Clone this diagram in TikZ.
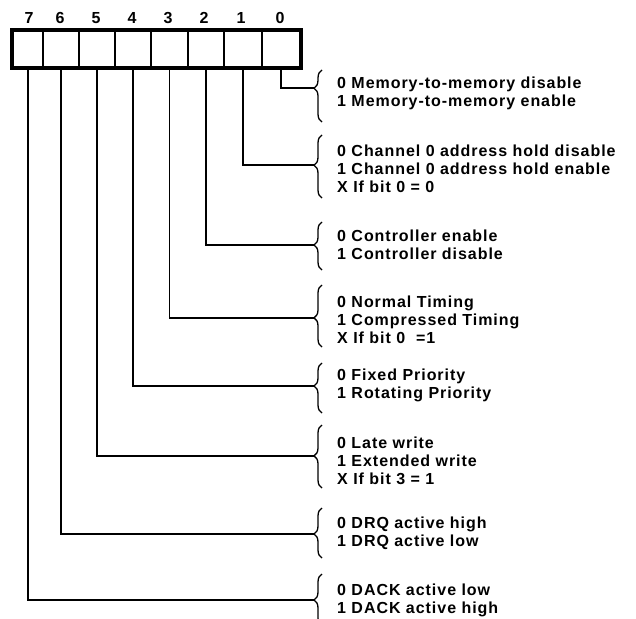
\documentclass[tikz,border=0pt]{standalone}
\usepackage{fontspec}
\setmainfont{Liberation Sans}[LetterSpace=6]
\usetikzlibrary{decorations.pathreplacing}
\newcommand\descfont{\fontsize{16}{17.8}\selectfont\bfseries}
\begin{document}
\begin{tikzpicture}[x=1pt,y=1pt,
  cell/.style={draw, line width=2.2pt, minimum height=36pt, inner sep=0pt},
  bitnum/.style={font=\descfont, inner sep=0pt},
  desc/.style={font=\descfont, align=left, anchor=west, inner sep=0pt},
  wire/.style={line width=1.5pt},
  brc/.style={decorate, decoration={brace, amplitude=8pt, aspect=#1}, line width=1.3pt}]
\useasboundingbox (0,0) rectangle (636,-618);
% register cells
\node[cell, minimum width=30pt] (c7) at (28,-49) {};
\node[cell, minimum width=36pt] (c6) at (61,-49) {};
\node[cell, minimum width=36pt] (c5) at (97,-49) {};
\node[cell, minimum width=36pt] (c4) at (133,-49) {};
\node[cell, minimum width=37pt] (c3) at (169.5,-49) {};
\node[cell, minimum width=36pt] (c2) at (206,-49) {};
\node[cell, minimum width=38pt] (c1) at (243,-49) {};
\node[cell, minimum width=38pt] (c0) at (281,-49) {};
\draw[line width=3pt] (c7.north west) rectangle (c0.south east);
% bit numbers
\node[bitnum] (n7) at (29,-18) {7};
\node[bitnum] (n6) at (60,-18) {6};
\node[bitnum] (n5) at (96,-18) {5};
\node[bitnum] (n4) at (132,-18) {4};
\node[bitnum] (n3) at (168,-18) {3};
\node[bitnum] (n2) at (204,-18) {2};
\node[bitnum] (n1) at (241,-18) {1};
\node[bitnum] (n0) at (280,-18) {0};
% brace tips
\coordinate (t0) at (314,-88);
\coordinate (t1) at (314,-165);
\coordinate (t2) at (314,-245);
\coordinate (t3) at (314,-318);
\coordinate (t4) at (314,-386);
\coordinate (t5) at (314,-456);
\coordinate (t6) at (314,-534);
\coordinate (t7) at (314,-600);
% braces
\draw[brc=0.65] (322,-122) -- (322,-70);
\draw[brc=0.52] (322,-198) -- (322,-135);
\draw[brc=0.52] (322,-270) -- (322,-222);
\draw[brc=0.47] (322,-347) -- (322,-285);
\draw[brc=0.54] (322,-413) -- (322,-363);
\draw[brc=0.51] (322,-488) -- (322,-425);
\draw[brc=0.48] (322,-558) -- (322,-508);
\draw[brc=0.5] (322,-626) -- (322,-574);
% connectors
\draw[wire] (c0.south) |- (t0);
\draw[wire] (c1.south) |- (t1);
\draw[wire] (c2.south) |- (t2);
\draw[wire] (c3.south) |- (t3);
\draw[wire] (c4.south) |- (t4);
\draw[wire] (c5.south) |- (t5);
\draw[wire] (c6.south) |- (t6);
\draw[wire] (c7.south) |- (t7);
% descriptions
\node[desc] (d0) at (337,-93) {0 Memory-to-memory disable\\1 Memory-to-memory enable};
\node[desc] (d1) at (337,-168.5) {0 Channel 0 address hold disable\\1 Channel 0 address hold enable\\X If bit 0 = 0};
\node[desc] (d2) at (337,-245) {0 Controller enable\\1 Controller disable};
\node[desc] (d3) at (337,-319.5) {0 Normal Timing\\1 Compressed Timing\\X If bit 0 \ =1};
\node[desc] (d4) at (337,-385.5) {0 Fixed Priority\\1 Rotating Priority};
\node[desc] (d5) at (337,-460.5) {0 Late write\\1 Extended write\\X If bit 3 = 1};
\node[desc] (d6) at (337,-533) {0 DRQ active high\\1 DRQ active low};
\node[desc] (d7) at (337,-600.5) {0 DACK active low\\1 DACK active high};
\end{tikzpicture}
\end{document}
